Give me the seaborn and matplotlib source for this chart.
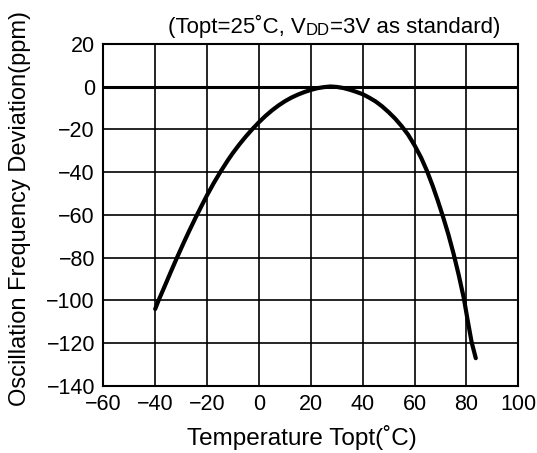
import matplotlib
matplotlib.use("Agg")
import matplotlib.pyplot as plt
import seaborn as sns
import pandas as pd

# values
temperature = [-40, -38.7, -36, -34, -31.6, -29, -27, -24.5, -22, -20, -17.5, -14.8,
               -12, -10, -7.5, -5, -2.6, 0, 2.5, 5, 7.5, 10, 12.5, 15, 17.5, 20,
               22.5, 25, 27.5, 30, 32.5, 35, 37.5, 40, 42.5, 45, 47.5, 50, 52.5,
               55, 57.5, 60, 62.5, 64.8, 67, 69, 71, 73, 75, 77, 79, 80.5, 82, 83.6]
deviation = [-104, -100, -92.4, -86.7, -80, -73, -67.8, -61.5, -55.5, -50.8, -45.3,
             -39.8, -34.5, -31, -27, -23.3, -20, -16.7, -13.8, -11.2, -8.9, -6.9, -5.2,
             -3.8, -2.6, -1.6, -0.8, -0.3, 0, -0.2, -0.7, -1.5, -2.5, -3.6, -5.2, -7,
             -9.3, -12, -15, -18.5, -22.5, -27.5, -33.2, -39.5, -46.5, -53.5, -61, -69,
             -78, -88, -99, -109.5, -119.5, -127]

x_ticks = [-60, -40, -20, 0, 20, 40, 60, 80, 100]
y_ticks = [20, 0, -20, -40, -60, -80, -100, -120, -140]

df = pd.DataFrame({"Temperature": temperature, "Deviation": deviation})

sns.set_style("white")
plt.rcParams['font.family'] = ['Liberation Sans', 'DejaVu Sans']
plt.rcParams['text.color'] = 'black'

fig = plt.figure(figsize=(5.37, 4.53), dpi=100)
ax = fig.add_axes([0.1924, 0.1479, 0.7728, 0.7556])

# grid
for xv in x_ticks:
    ax.axvline(xv, color='black', lw=1.2, zorder=1)
for yv in y_ticks:
    ax.axhline(yv, color='black', lw=2.2 if yv == 0 else 1.2, zorder=1)

sns.lineplot(data=df, x="Temperature", y="Deviation", ax=ax, color='black',
             lw=3.0, zorder=3, sort=False)

ax.set_xlim(-60, 100)
ax.set_ylim(-140, 20)
ax.set_xticks(x_ticks)
ax.set_yticks(y_ticks)
ax.tick_params(length=0, labelsize=15.5, pad=6, colors='black')
ax.set_xlabel("")
ax.set_ylabel("")
for s in ax.spines.values():
    s.set_color('black')
    s.set_linewidth(1.5)

fig.text(302 / 537, 1 - 438 / 453, "Temperature Topt(˚C)", ha='center', va='center',
         fontsize=17.5, color='black')
fig.text(20 / 537, 1 - 208 / 453, "Oscillation Frequency Deviation(ppm)", ha='center',
         va='center', rotation=90, fontsize=17, color='black')

# header text with small "DD"
t1 = fig.text(168 / 537, 1 - 33 / 453, "(Topt=25˚C, V", ha='left', va='baseline',
              fontsize=16, color='black')
t2 = ax.annotate("DD", xy=(1, 0), xycoords=t1, ha='left', va='bottom', fontsize=12,
                 color='black')
ax.annotate("=3V as standard)", xy=(1, 0), xycoords=t2, ha='left', va='bottom',
            fontsize=16, color='black')

fig.savefig("out.png", dpi=100)
